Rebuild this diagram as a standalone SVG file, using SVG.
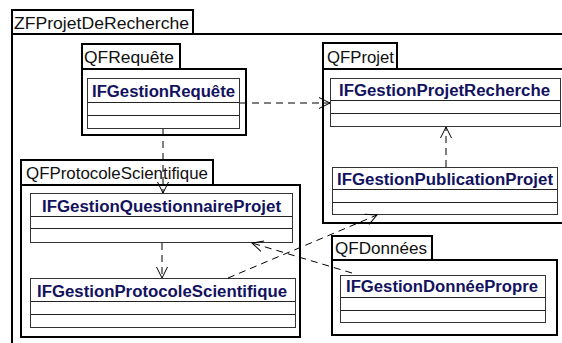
<svg xmlns="http://www.w3.org/2000/svg" width="562" height="343" viewBox="0 0 562 343">
<defs>
<style>
.pkg{fill:#fff;stroke:#000;stroke-width:2}
.cls{fill:#fff;stroke:#333;stroke-width:1}
.sep{stroke:#222;stroke-width:1}
.plbl{font-family:"Liberation Sans",Arial,sans-serif;font-size:17px;fill:#111}
.clbl{font-family:"Liberation Sans",Arial,sans-serif;font-size:16px;font-weight:bold;fill:#12125e}
.dep{fill:none;stroke:#000;stroke-width:1;stroke-dasharray:7 5}
</style>
<marker id="open" markerWidth="14" markerHeight="14" refX="12" refY="7" orient="auto" markerUnits="userSpaceOnUse">
<path d="M1,1.5 L12,7 L1,12.5" fill="none" stroke="#000" stroke-width="1" stroke-dasharray="none"/>
</marker>
</defs>
<rect width="562" height="343" fill="#fff"/>

<g id="ZFProjetDeRecherche">
<rect class="pkg" x="12" y="34" width="560" height="320"/>
<rect class="pkg" x="12" y="10" width="181" height="24"/>
<text class="plbl" x="14" y="29" textLength="175" lengthAdjust="spacingAndGlyphs">ZFProjetDeRecherche</text>
</g>

<g id="QFRequete">
<rect class="pkg" x="82" y="69" width="164" height="66"/>
<rect class="pkg" x="82" y="44" width="98" height="25"/>
<text class="plbl" x="84" y="63" textLength="90" lengthAdjust="spacingAndGlyphs">QFRequête</text>
</g>
<g id="IFGestionRequete">
<rect class="cls" x="87.5" y="78.5" width="152" height="50"/>
<line class="sep" x1="88" y1="102.5" x2="239" y2="102.5"/>
<line class="sep" x1="88" y1="115.5" x2="239" y2="115.5"/>
<text class="clbl" x="92" y="97" textLength="143" lengthAdjust="spacingAndGlyphs">IFGestionRequête</text>
</g>

<g id="QFProjet">
<rect class="pkg" x="323" y="69" width="250" height="154"/>
<rect class="pkg" x="323" y="43" width="74" height="26"/>
<text class="plbl" x="327" y="63" textLength="67" lengthAdjust="spacingAndGlyphs">QFProjet</text>
</g>
<g id="IFGestionProjetRecherche">
<rect class="cls" x="330.5" y="78.5" width="230" height="48"/>
<line class="sep" x1="331" y1="100.5" x2="560" y2="100.5"/>
<line class="sep" x1="331" y1="113.5" x2="560" y2="113.5"/>
<text class="clbl" x="339" y="96" textLength="211" lengthAdjust="spacingAndGlyphs">IFGestionProjetRecherche</text>
</g>
<g id="IFGestionPublicationProjet">
<rect class="cls" x="332.5" y="167.5" width="225" height="47"/>
<line class="sep" x1="333" y1="189.5" x2="557" y2="189.5"/>
<line class="sep" x1="333" y1="202.5" x2="557" y2="202.5"/>
<text class="clbl" x="337" y="185" textLength="216" lengthAdjust="spacingAndGlyphs">IFGestionPublicationProjet</text>
</g>

<g id="QFProtocoleScientifique">
<rect class="pkg" x="21" y="185" width="279" height="152"/>
<rect class="pkg" x="21" y="160" width="192" height="25"/>
<text class="plbl" x="26" y="179" textLength="182" lengthAdjust="spacingAndGlyphs">QFProtocoleScientifique</text>
</g>
<g id="IFGestionQuestionnaireProjet">
<rect class="cls" x="30.5" y="193.5" width="262" height="49"/>
<line class="sep" x1="31" y1="216.5" x2="292" y2="216.5"/>
<line class="sep" x1="31" y1="228.5" x2="292" y2="228.5"/>
<text class="clbl" x="42" y="212" textLength="239" lengthAdjust="spacingAndGlyphs">IFGestionQuestionnaireProjet</text>
</g>
<g id="IFGestionProtocoleScientifique">
<rect class="cls" x="30.5" y="278.5" width="265" height="49"/>
<line class="sep" x1="31" y1="301.5" x2="295" y2="301.5"/>
<line class="sep" x1="31" y1="314.5" x2="295" y2="314.5"/>
<text class="clbl" x="37" y="297" textLength="250" lengthAdjust="spacingAndGlyphs">IFGestionProtocoleScientifique</text>
</g>

<g id="QFDonnees">
<rect class="pkg" x="332" y="260" width="225" height="75"/>
<rect class="pkg" x="332" y="236" width="100" height="24"/>
<text class="plbl" x="335" y="254" textLength="92" lengthAdjust="spacingAndGlyphs">QFDonnées</text>
</g>
<g id="IFGestionDonneePropre">
<rect class="cls" x="340.5" y="275.5" width="205" height="47"/>
<line class="sep" x1="341" y1="297.5" x2="545" y2="297.5"/>
<line class="sep" x1="341" y1="310.5" x2="545" y2="310.5"/>
<text class="clbl" x="346" y="292" textLength="192" lengthAdjust="spacingAndGlyphs">IFGestionDonnéePropre</text>
</g>

<g id="connectors">
<line class="dep" x1="240" y1="103" x2="330" y2="103" marker-end="url(#open)"/>
<line class="dep" x1="163" y1="129" x2="163" y2="193" marker-end="url(#open)"/>
<line class="dep" x1="446" y1="167" x2="446" y2="127" marker-end="url(#open)"/>
<line class="dep" x1="162" y1="243" x2="162" y2="278" marker-end="url(#open)"/>
<line class="dep" x1="228" y1="278" x2="377" y2="215" marker-end="url(#open)"/>
<line class="dep" x1="352" y1="273" x2="252" y2="243" marker-end="url(#open)"/>
</g>
</svg>
